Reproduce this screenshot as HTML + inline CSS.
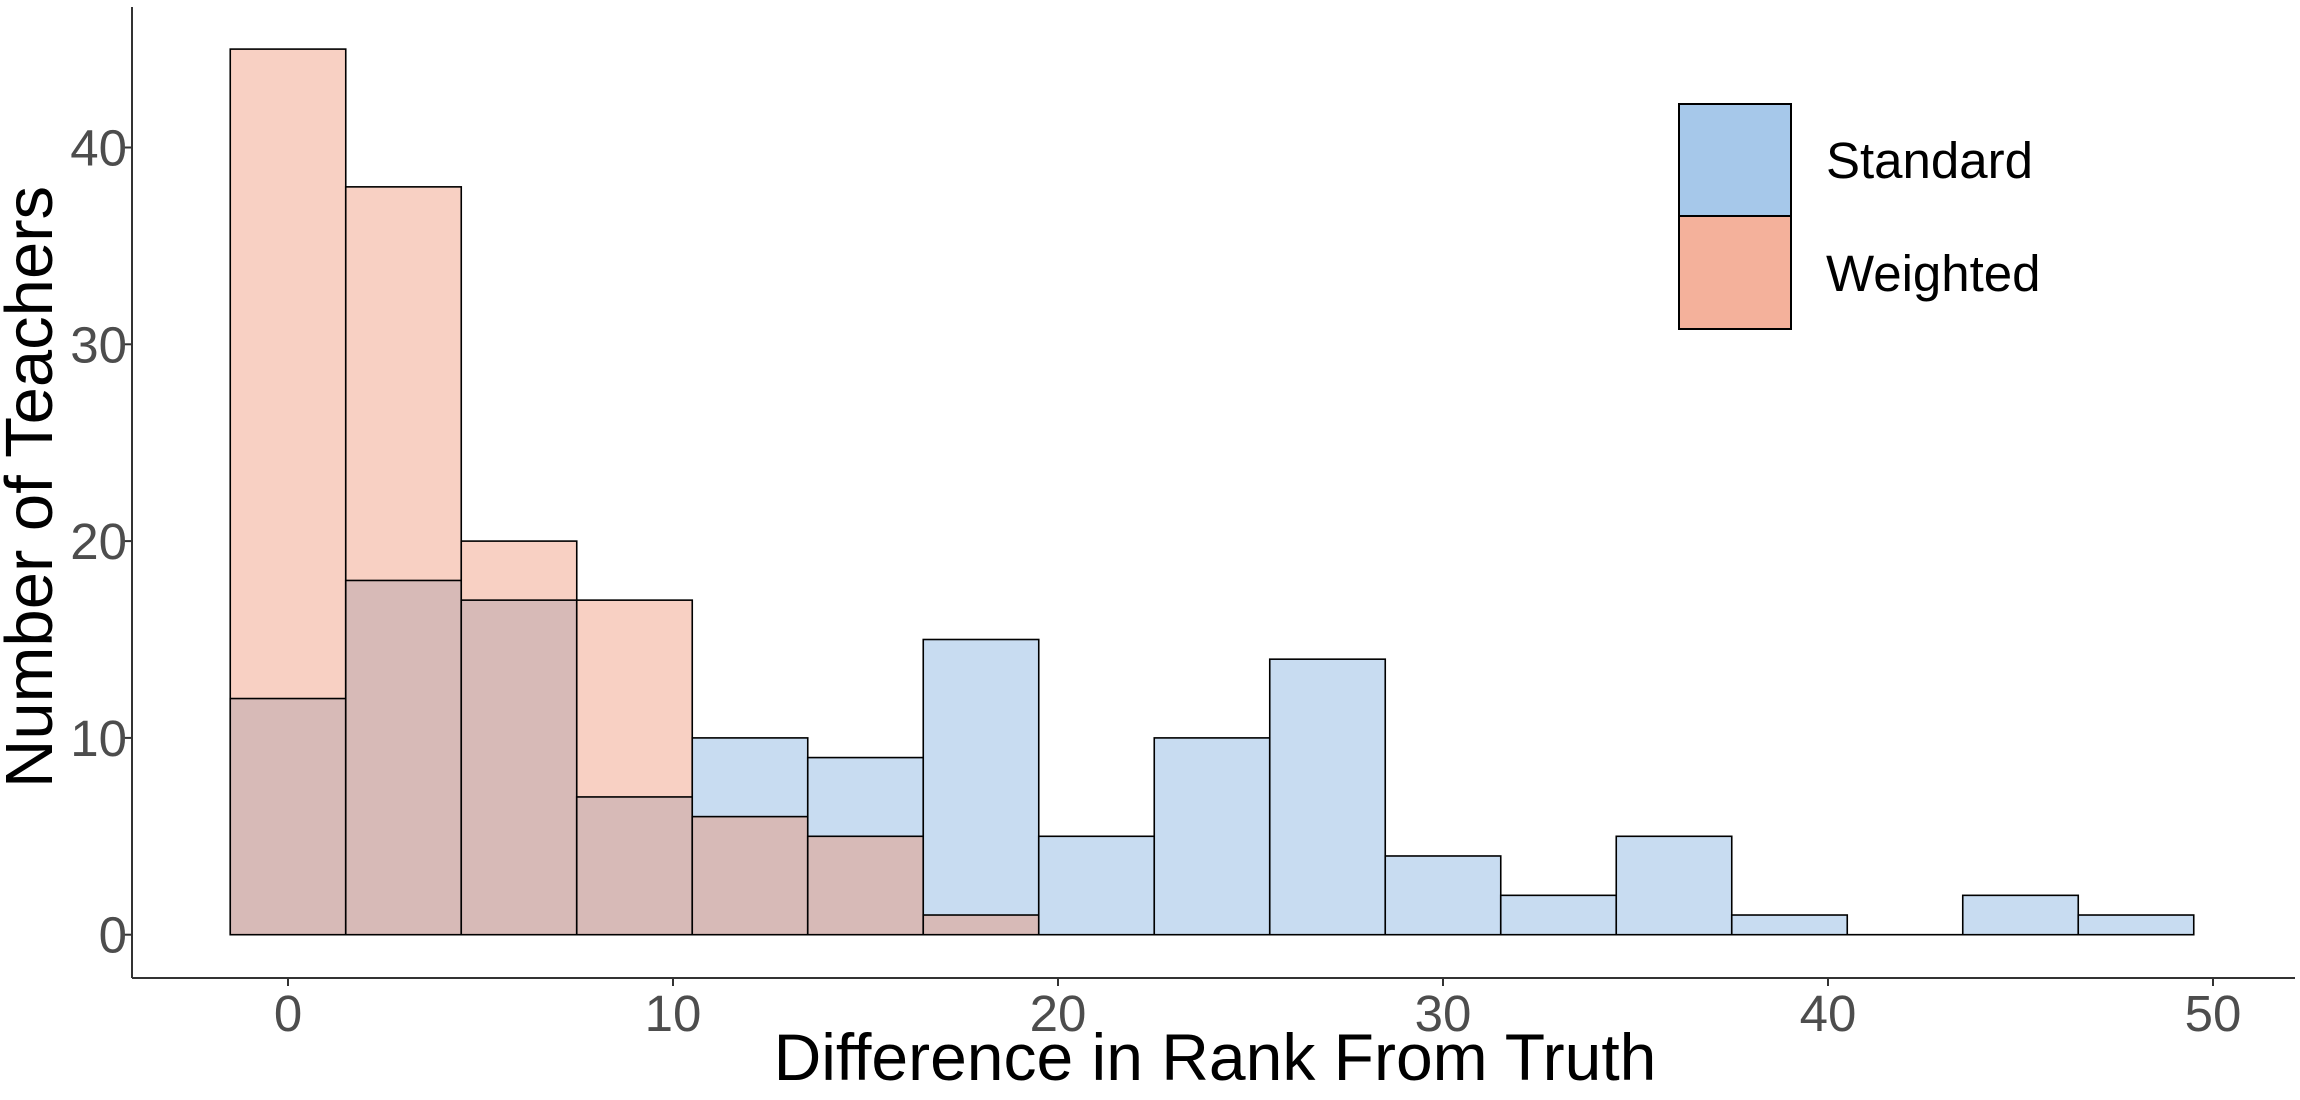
<!DOCTYPE html>
<html><head><meta charset="utf-8"><style>
html,body{margin:0;padding:0;background:#fff;}
svg{display:block;font-family:"Liberation Sans",sans-serif;}
</style></head><body>
<svg id="chart" width="2300" height="1100" viewBox="0 0 2300 1100" xmlns="http://www.w3.org/2000/svg">
<g id="bars"></g>
<line x1="132" y1="7" x2="132" y2="978" stroke="#333" stroke-width="2"/>
<line x1="132" y1="978" x2="2295" y2="978" stroke="#333" stroke-width="2"/>
<g id="ticks"></g>
<text transform="translate(52,487) rotate(-90)" text-anchor="middle" font-size="67" fill="#000">Number of Teachers</text>
<text x="1215" y="1080" text-anchor="middle" font-size="66" fill="#000">Difference in Rank From Truth</text>
<g>
<rect x="1679" y="104" width="112" height="112" fill="#a6c8ea" stroke="#000" stroke-width="2"/>
<rect x="1679" y="216" width="112" height="113" fill="#f4b19b" stroke="#000" stroke-width="2"/>
<text x="1826" y="178" font-size="51" fill="#000">Standard</text>
<text x="1826" y="291" font-size="51" fill="#000">Weighted</text>
</g>
</svg>
<script>
const binCenters = [0,3,6,9,12,15,18,21,24,27,30,33,36,39,42,45,48];
const standardCounts = [12,18,17,7,10,9,15,5,10,14,4,2,5,1,0,2,1];
const weightedCounts = [45,38,20,17,6,5,1,0,0,0,0,0,0,0,0,0,0];
const xTicks = [0,10,20,30,40,50];
const yTicks = [0,10,20,30,40];
const binWidth = 3;
const NS='http://www.w3.org/2000/svg';
function xs(v){return 288 + v*38.5;}
function ys(v){return 934.7 - v*19.68;}
const bars=document.getElementById('bars');
function rect(x0,x1,v,fill,name){
  const r=document.createElementNS(NS,'rect');
  r.setAttribute('x',xs(x0));r.setAttribute('width',xs(x1)-xs(x0));
  r.setAttribute('y',ys(v));r.setAttribute('height',ys(0)-ys(v));
  r.setAttribute('fill',fill);r.setAttribute('stroke','#000');r.setAttribute('stroke-width','1.6');
  
  
  bars.appendChild(r);
}
binCenters.forEach((c,i)=>{
  const s=standardCounts[i], w=weightedCounts[i];
  const x0=c-binWidth/2, x1=c+binWidth/2;
  if(s===0&&w===0){
    const l=document.createElementNS(NS,'line');
    l.setAttribute('x1',xs(x0));l.setAttribute('x2',xs(x1));l.setAttribute('y1',ys(0));l.setAttribute('y2',ys(0));
    l.setAttribute('stroke','#000');l.setAttribute('stroke-width','1.6');
    
    
    bars.appendChild(l);
    return;
  }
  if(w>=s){
    rect(x0,x1,w,'#f8d0c3','bar-weighted-'+c);
    if(s>0) rect(x0,x1,s,'#d7bab7','bar-overlap-'+c);
  } else {
    rect(x0,x1,s,'#c8dcf1','bar-standard-'+c);
    if(w>0) rect(x0,x1,w,'#d7bab7','bar-overlap-'+c);
  }
});
const ticks=document.getElementById('ticks');
xTicks.forEach(t=>{
  const l=document.createElementNS(NS,'line');
  l.setAttribute('x1',xs(t));l.setAttribute('x2',xs(t));l.setAttribute('y1',978);l.setAttribute('y2',986);
  l.setAttribute('stroke','#333');l.setAttribute('stroke-width','2');
  
  
  ticks.appendChild(l);
  const tx=document.createElementNS(NS,'text');
  tx.setAttribute('x',xs(t));tx.setAttribute('y',1031);tx.setAttribute('text-anchor','middle');
  tx.setAttribute('font-size','51');tx.setAttribute('fill','#4d4d4d');tx.textContent=t;
  
  
  ticks.appendChild(tx);
});
yTicks.forEach(t=>{
  const l=document.createElementNS(NS,'line');
  l.setAttribute('x1',124);l.setAttribute('x2',132);l.setAttribute('y1',ys(t));l.setAttribute('y2',ys(t));
  l.setAttribute('stroke','#333');l.setAttribute('stroke-width','2');
  
  
  ticks.appendChild(l);
  const tx=document.createElementNS(NS,'text');
  tx.setAttribute('x',127);tx.setAttribute('y',ys(t)+18);tx.setAttribute('text-anchor','end');
  tx.setAttribute('font-size','51');tx.setAttribute('fill','#4d4d4d');tx.textContent=t;
  
  
  ticks.appendChild(tx);
});
</script>
</body></html>
